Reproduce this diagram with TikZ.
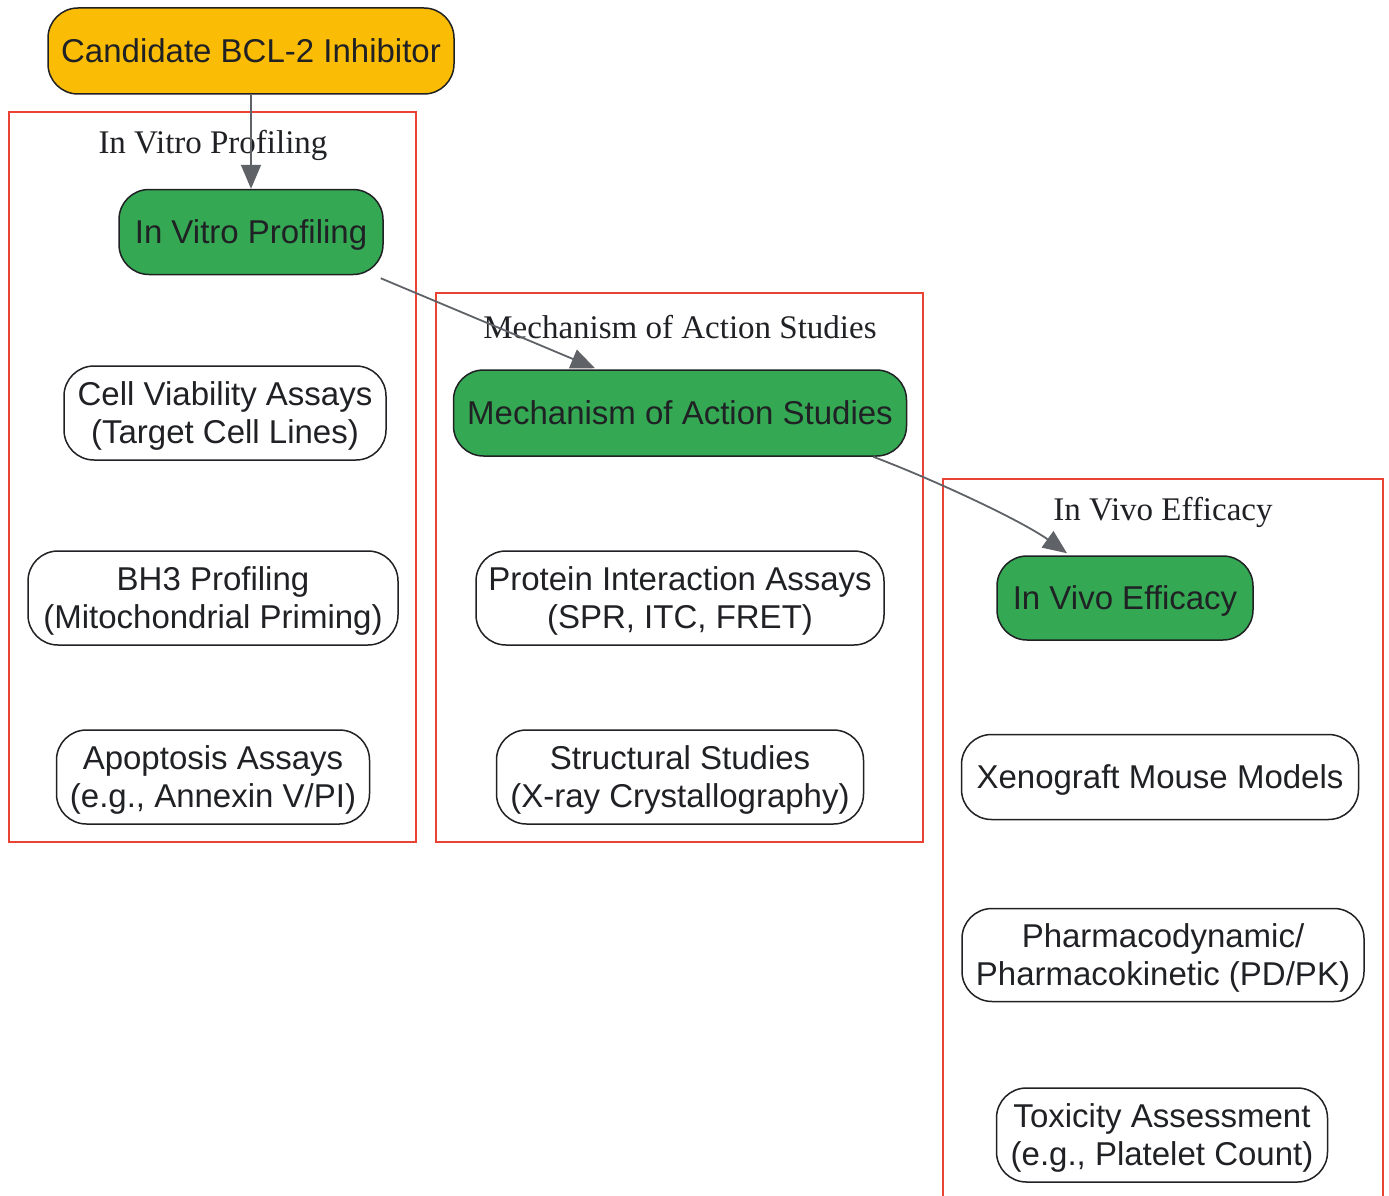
\documentclass[tikz,border=0pt]{standalone}
\usepackage{fontspec}
\setmainfont{Liberation Serif}
\newfontfamily\sansf{Liberation Sans}
\usetikzlibrary{arrows.meta,calc}
\definecolor{ink}{HTML}{202124}
\definecolor{gyellow}{HTML}{FBBC05}
\definecolor{ggreen}{HTML}{34A853}
\definecolor{gred}{HTML}{EA4335}
\definecolor{ggray}{HTML}{5F6368}
\begin{document}
\begin{tikzpicture}[x=1pt,y=-1pt,
  box/.style={draw=ink, line width=1.5pt, rounded corners=30pt, align=center,
    font=\sansf\fontsize{33}{38}\selectfont, text=ink, inner sep=0pt, text depth=-7pt},
  startbox/.style={box, fill=gyellow},
  phasebox/.style={box, fill=ggreen},
  cluster/.style={draw=gred, line width=1.8pt},
  clabel/.style={font=\fontsize{33}{38}\selectfont, text=ink, inner sep=0pt},
  arr/.style={draw=ggray, line width=1.8pt, -{Triangle[length=24pt,width=20pt]}}]
\useasboundingbox (0,0) rectangle (1389,1196);
\clip (0,0) rectangle (1389,1196);
\fill[white] (0,0) rectangle (1389,1196);
% clusters
\draw[cluster] (9,112) rectangle (416,842);
\node[clabel] (l1) at (213,145) {In Vitro Profiling};
\draw[cluster] (436,293) rectangle (923,842);
\node[clabel] (l2) at (680,327) {Mechanism of Action Studies};
\draw[cluster] (943,479) rectangle (1383,1230);
\node[clabel] (l3) at (1163,512) {In Vivo Efficacy};
% nodes
\node[startbox, minimum width=406pt, minimum height=86pt] (cand) at (251,51) {Candidate BCL-2 Inhibitor};
\node[phasebox, minimum width=264pt, minimum height=85pt] (ivp) at (251,232) {In Vitro Profiling};
\node[box, minimum width=322pt, minimum height=94pt] (cv) at (225,413) {Cell Viability Assays\\(Target Cell Lines)};
\node[box, minimum width=370pt, minimum height=94pt] (bh3) at (213,598) {BH3 Profiling\\(Mitochondrial Priming)};
\node[box, minimum width=313pt, minimum height=94pt] (apo) at (213,777) {Apoptosis Assays\\(e.g., Annexin V/PI)};
\node[phasebox, minimum width=453pt, minimum height=86pt] (moa) at (680,413) {Mechanism of Action Studies};
\node[box, minimum width=408pt, minimum height=94pt] (pia) at (680,598) {Protein Interaction Assays\\(SPR, ITC, FRET)};
\node[box, minimum width=367pt, minimum height=94pt] (str) at (680,777) {Structural Studies\\(X-ray Crystallography)};
\node[phasebox, minimum width=256pt, minimum height=84pt] (ive) at (1125,598) {In Vivo Efficacy};
\node[box, minimum width=397pt, minimum height=85pt] (xen) at (1160,777) {Xenograft Mouse Models};
\node[box, minimum width=402pt, minimum height=93pt] (pdpk) at (1163,955) {Pharmacodynamic/\\Pharmacokinetic (PD/PK)};
\node[box, minimum width=331pt, minimum height=94pt] (tox) at (1162,1135) {Toxicity Assessment\\(e.g., Platelet Count)};
% edges
\draw[arr] (cand.south) -- (ivp.north);
\draw[arr] ($(ivp.south east)+(-3,3)$) -- ($(moa.north)+(-85,-1)$);
\draw[arr] ($(moa.south east)+(-34,0)$) .. controls (937,481) and (1022,521) .. ($(ive.north)+(-58,-2)$);
\end{tikzpicture}
\end{document}
